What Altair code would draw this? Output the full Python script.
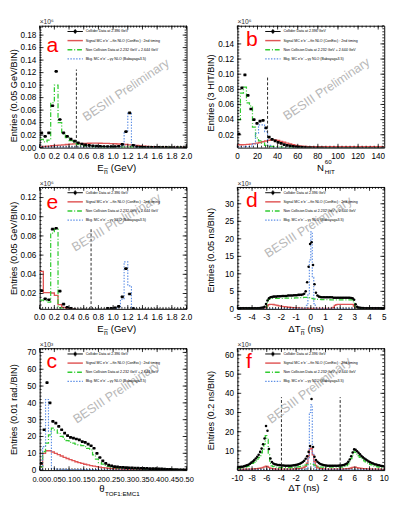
import math
import altair as alt
import pandas as pd

FONT = "Liberation Sans"
RED, GREEN, BLUE = "#e05555", "#33cc33", "#5d8fe6"
WM = "#b8b8b8"

# ---------------- panel a : E_nbar (GeV), 0.05 GeV bins, x10^6 ----------------
A_BIN0, A_BINW = 0.0, 0.05
A_DATA = [0.0235, 0.018, 0.0235, 0.067, 0.122, 0.045, 0.0235, 0.018, 0.0135, 0.0105,
          0.0075, 0.0058, 0.0045, 0.0036, 0.003, 0.0025, 0.0021, 0.0018, 0.0016, 0.0015,
          0.0016, 0.0022, 0.0052, 0.0255, 0.0555, 0.0038, 0.0012, 0.0008, 0.0006, 0.0005,
          0.0004, 0.0004, 0.0003, 0.0003, 0.0003, 0.0002, 0.0002, 0.0002, 0.0002, 0.0002]
A_SIGNAL = [0.0015, 0.002, 0.0025, 0.003, 0.0035, 0.004, 0.0045, 0.005, 0.0055, 0.006,
            0.0063, 0.0066, 0.0068, 0.007, 0.0071, 0.0071, 0.007, 0.0069, 0.0067, 0.0065,
            0.0062, 0.0058, 0.0054, 0.005, 0.0045, 0.004, 0.0034, 0.0028, 0.0023, 0.0018,
            0.0014, 0.0011, 0.0008, 0.0006, 0.0005, 0.0004, 0.0003, 0.0003, 0.0002, 0.0002]
A_NONCOLL = [0.013, 0.009, 0.012, 0.072, 0.100, 0.040, 0.022, 0.016, 0.011, 0.008,
             0.005, 0.003, 0.0022, 0.0016, 0.0012, 0.001, 0.0009, 0.0008, 0.0008, 0.0007,
             0.0007, 0.0007, 0.0008, 0.001, 0.001, 0.0007, 0.0006, 0.0005, 0.0005, 0.0004,
             0.0004, 0.0004, 0.0003, 0.0003, 0.0003, 0.0003, 0.0002, 0.0002, 0.0002, 0.0002]
A_BKG = [0.0008, 0.0008, 0.0008, 0.0008, 0.0008, 0.0008, 0.0008, 0.0008, 0.0008, 0.0008,
         0.0008, 0.0008, 0.0008, 0.0008, 0.0008, 0.0008, 0.0008, 0.0008, 0.0008, 0.0008,
         0.0009, 0.0012, 0.003, 0.025, 0.056, 0.004, 0.0008, 0.0005, 0.0004, 0.0003,
         0.0003, 0.0003, 0.0002, 0.0002, 0.0002, 0.0002, 0.0002, 0.0002, 0.0002, 0.0002]
A_CUTS = [(0.5, 0.125)]
A_XTICKS = [0.0, 0.2, 0.4, 0.6, 0.8, 1.0, 1.2, 1.4, 1.6, 1.8, 2.0]
A_XLABELS = ["0.0", "0.2", "0.4", "0.6", "0.8", "1.0", "1.2", "1.4", "1.6", "1.8", "2.0"]
A_YTICKS = [0.0, 0.02, 0.04, 0.06, 0.08, 0.10, 0.12, 0.14, 0.16, 0.18]
A_YLABELS = ["0.00", "0.02", "0.04", "0.06", "0.08", "0.10", "0.12", "0.14", "0.16", "0.18"]

# ---------------- panel b : N_HIT^60, 3 HIT bins, x10^6 ----------------
B_BIN0, B_BINW = 0.0, 3.0
B_DATA = [0.021, 0.082, 0.099, 0.072, 0.054, 0.040, 0.035, 0.038, 0.039, 0.029,
          0.017, 0.014, 0.012, 0.010, 0.0085, 0.007, 0.006, 0.0052, 0.0046, 0.004,
          0.0036, 0.0033, 0.003, 0.0028, 0.0026, 0.0025, 0.0024, 0.0023, 0.0022, 0.0021,
          0.002, 0.002, 0.002, 0.002, 0.002, 0.002, 0.002, 0.002, 0.002, 0.002,
          0.002, 0.002, 0.002, 0.002, 0.002, 0.002, 0.002, 0.002, 0.002, 0.002]
B_SIGNAL = [0.0068, 0.0068, 0.007, 0.0073, 0.0077, 0.0082, 0.0089, 0.0098, 0.0108, 0.0118,
            0.0128, 0.0135, 0.0132, 0.0124, 0.0113, 0.0101, 0.0089, 0.0078, 0.0068, 0.006,
            0.0053, 0.0048, 0.0045, 0.0043, 0.0042, 0.0042, 0.0042, 0.0042, 0.0042, 0.0042,
            0.0042, 0.0042, 0.0042, 0.0042, 0.0042, 0.0042, 0.0042, 0.0042, 0.0042, 0.0042,
            0.0042, 0.0042, 0.0042, 0.0042, 0.0042, 0.0042, 0.0042, 0.0042, 0.0042, 0.0042]
B_NONCOLL = [0.040, 0.075, 0.083, 0.062, 0.058, 0.030, 0.016, 0.012, 0.009, 0.006,
             0.005, 0.0045, 0.004, 0.0038, 0.0036, 0.0034, 0.0033, 0.0032, 0.0031, 0.003,
             0.0028, 0.0028, 0.0028, 0.0028, 0.0028, 0.0028, 0.0028, 0.0028, 0.0028, 0.0028,
             0.0028, 0.0028, 0.0028, 0.0028, 0.0028, 0.0028, 0.0028, 0.0028, 0.0028, 0.0028,
             0.0028, 0.0028, 0.0028, 0.0028, 0.0028, 0.0028, 0.0028, 0.0028, 0.0028, 0.0028]
B_BKG = [0.004, 0.004, 0.004, 0.0045, 0.005, 0.008, 0.022, 0.033, 0.033, 0.024,
         0.006, 0.0035, 0.003, 0.0028, 0.0028, 0.0028, 0.0028, 0.0028, 0.0028, 0.0028,
         0.0028, 0.0028, 0.0028, 0.0028, 0.0028, 0.0028, 0.0028, 0.0028, 0.0028, 0.0028,
         0.0028, 0.0028, 0.0028, 0.0028, 0.0028, 0.0028, 0.0028, 0.0028, 0.0028, 0.0028,
         0.0028, 0.0028, 0.0028, 0.0028, 0.0028, 0.0028, 0.0028, 0.0028, 0.0028, 0.0028]
B_CUTS = [(30, 0.098)]
B_XTICKS = [0, 20, 40, 60, 80, 100, 120, 140]
B_XLABELS = ["0", "20", "40", "60", "80", "100", "120", "140"]
B_YTICKS = [0.02, 0.04, 0.06, 0.08, 0.10, 0.12, 0.14]
B_YLABELS = ["0.02", "0.04", "0.06", "0.08", "0.10", "0.12", "0.14"]

# ---------------- panel e : E_nbar (GeV), 0.05 GeV bins, x10^6 ----------------
E_BIN0, E_BINW = 0.0, 0.05
E_DATA = [0.023, 0.0145, 0.0135, 0.087, 0.088, 0.0225, 0.009, 0.0055, 0.0045, 0.0035,
          0.003, 0.003, 0.003, 0.003, 0.003, 0.003, 0.003, 0.003, 0.0045, 0.0045,
          0.005, 0.0065, 0.0165, 0.046, 0.0195, 0.0042, 0.003, 0.003, 0.003, 0.003,
          0.003, 0.003, 0.003, 0.003, 0.003, 0.003, 0.003, 0.003, 0.003, 0.003]
E_SIGNAL = [0.043, 0.021, 0.021, 0.0205, 0.018, 0.0085, 0.0055, 0.0045, 0.0038, 0.0035,
            0.003, 0.003, 0.003, 0.003, 0.003, 0.003, 0.003, 0.003, 0.003, 0.003,
            0.003, 0.003, 0.003, 0.003, 0.003, 0.003, 0.003, 0.003, 0.003, 0.003,
            0.003, 0.003, 0.003, 0.003, 0.003, 0.003, 0.003, 0.003, 0.003, 0.003]
E_NONCOLL = [0.013, 0.0125, 0.011, 0.083, 0.087, 0.005, 0.0035, 0.003, 0.003, 0.003,
             0.003, 0.003, 0.003, 0.003, 0.003, 0.003, 0.003, 0.003, 0.003, 0.003,
             0.003, 0.003, 0.003, 0.003, 0.003, 0.003, 0.003, 0.003, 0.003, 0.003,
             0.003, 0.003, 0.003, 0.003, 0.003, 0.003, 0.003, 0.003, 0.003, 0.003]
E_BKG = [0.003, 0.003, 0.003, 0.003, 0.003, 0.003, 0.003, 0.003, 0.003, 0.003,
         0.003, 0.003, 0.003, 0.003, 0.003, 0.003, 0.003, 0.003, 0.003, 0.003,
         0.0045, 0.006, 0.014, 0.053, 0.028, 0.005, 0.003, 0.003, 0.003, 0.003,
         0.003, 0.003, 0.003, 0.003, 0.003, 0.003, 0.003, 0.003, 0.003, 0.003]
E_CUTS = [(0.7, 0.088)]
E_XTICKS, E_XLABELS = A_XTICKS, A_XLABELS
E_YTICKS = [0.02, 0.04, 0.06, 0.08, 0.10, 0.12]
E_YLABELS = ["0.02", "0.04", "0.06", "0.08", "0.10", "0.12"]

# ---------------- panel d : Delta T_nbar (ns), 0.1 ns points, x10^3 ----------------
D_BIN0, D_BINW = -5.0, 0.1
D_DATA = [0.2, 0.2, 0.2, 0.2, 0.2, 0.2, 0.2, 0.2, 0.2, 0.2,
          0.2, 0.2, 0.2, 0.2, 0.2, 0.25, 0.3, 0.35, 0.6, 1.4,
          2.4, 3.0, 3.3, 3.4, 3.5, 3.5, 3.5, 3.6, 3.6, 3.6,
          3.7, 3.7, 3.7, 3.7, 3.8, 3.8, 3.8, 3.8, 3.9, 3.9,
          3.9, 4.0, 4.0, 4.0, 4.1, 4.3, 5.0, 7.6, 12.0, 18.5,
          19.0, 12.5, 7.0, 4.6, 3.8, 3.5, 3.4, 3.3, 3.3, 3.3,
          3.3, 3.3, 3.3, 3.3, 3.3, 3.2, 3.2, 3.2, 3.2, 3.2,
          3.2, 3.2, 3.2, 3.2, 3.2, 3.2, 3.2, 3.1, 3.0, 2.6,
          1.3, 0.6, 0.35, 0.3, 0.25, 0.25, 0.2, 0.2, 0.2, 0.2,
          0.2, 0.2, 0.2, 0.2, 0.2, 0.2, 0.2, 0.2, 0.2, 0.2]
D_SIGNAL = [0.05, 0.05, 0.05, 0.05, 0.05, 0.05, 0.05, 0.05, 0.05, 0.05,
            0.05, 0.05, 0.05, 0.05, 0.05, 0.05, 0.05, 0.05, 0.05, 0.3,
            0.9, 1.2, 1.3, 1.3, 1.25, 1.15, 1.05, 0.95, 0.85, 0.8,
            0.72, 0.66, 0.6, 0.55, 0.5, 0.45, 0.4, 0.36, 0.32, 0.3,
            0.27, 0.24, 0.22, 0.2, 0.15, 0.15, 0.15, 0.15, 0.15, 0.15,
            0.15, 0.15, 0.15, 0.15, 0.15, 0.15, 0.15, 0.15, 0.15, 0.15,
            0.15, 0.15, 0.15, 0.15, 0.15, 0.4, 1.0, 1.2, 1.3, 1.3,
            1.3, 1.3, 1.3, 1.3, 1.3, 1.3, 1.3, 1.3, 1.3, 0.8,
            0.1, 0.05, 0.05, 0.05, 0.05, 0.05, 0.05, 0.05, 0.05, 0.05,
            0.05, 0.05, 0.05, 0.05, 0.05, 0.05, 0.05, 0.05, 0.05, 0.05]
D_NONCOLL = [0.05, 0.05, 0.05, 0.05, 0.05, 0.05, 0.05, 0.05, 0.05, 0.05,
             0.05, 0.05, 0.05, 0.05, 0.05, 0.05, 0.05, 0.05, 0.05, 0.05,
             1.8, 2.7, 2.9, 3.0, 3.0, 3.0, 3.0, 3.0, 3.0, 3.0,
             3.0, 3.05, 3.05, 3.05, 3.1, 3.1, 3.1, 3.1, 3.1, 3.15,
             3.15, 3.15, 3.2, 3.2, 3.2, 3.3, 3.3, 3.3, 3.3, 3.2,
             3.0, 2.9, 2.8, 2.7, 2.7, 2.7, 2.7, 2.65, 2.65, 2.65,
             2.65, 2.65, 2.65, 2.6, 2.6, 2.6, 2.6, 2.6, 2.6, 2.6,
             2.6, 2.6, 2.6, 2.6, 2.6, 2.6, 2.6, 2.6, 2.6, 1.8,
             0.05, 0.05, 0.05, 0.05, 0.05, 0.05, 0.05, 0.05, 0.05, 0.05,
             0.05, 0.05, 0.05, 0.05, 0.05, 0.05, 0.05, 0.05, 0.05, 0.05]
D_BKG = [0.05, 0.05, 0.05, 0.05, 0.05, 0.05, 0.05, 0.05, 0.05, 0.05,
         0.05, 0.05, 0.05, 0.05, 0.05, 0.05, 0.05, 0.05, 0.05, 0.05,
         0.05, 0.05, 0.05, 0.05, 0.05, 0.05, 0.05, 0.05, 0.05, 0.05,
         0.05, 0.05, 0.05, 0.05, 0.05, 0.05, 0.05, 0.05, 0.05, 0.05,
         0.05, 0.05, 0.05, 0.05, 0.05, 0.05, 0.05, 1.0, 4.0, 14.0,
         22.0, 9.0, 1.5, 0.05, 0.05, 0.05, 0.05, 0.05, 0.05, 0.05,
         0.05, 0.05, 0.05, 0.05, 0.05, 0.05, 0.05, 0.05, 0.05, 0.05,
         0.05, 0.05, 0.05, 0.05, 0.05, 0.05, 0.05, 0.05, 0.05, 0.05,
         0.05, 0.05, 0.05, 0.05, 0.05, 0.05, 0.05, 0.05, 0.05, 0.05,
         0.05, 0.05, 0.05, 0.05, 0.05, 0.05, 0.05, 0.05, 0.05, 0.05]
D_CUTS = []
D_XTICKS = [-5, -4, -3, -2, -1, 0, 1, 2, 3, 4, 5]
D_XLABELS = ["-5", "-4", "-3", "-2", "-1", "0", "1", "2", "3", "4", "5"]
D_YTICKS = [0, 5, 10, 15, 20, 25, 30]
D_YLABELS = ["0", "5", "10", "15", "20", "25", "30"]

# ---------------- panel c : theta_TOF1:EMC1, 0.01 rad bins, x10^3 ----------------
C_BIN0, C_BINW = 0.0, 0.01
C_DATA = [4, 24, 52, 40, 29, 28, 26, 24, 22, 20.5,
          19.5, 19, 18.5, 18, 17, 16.5, 15.5, 14.5, 13, 10,
          7.5, 5.5, 4, 3, 2.5, 2.1, 1.9, 1.7, 1.6, 1.5,
          1.4, 1.3, 1.25, 1.2, 1.1, 1.05, 1.0, 0.95, 0.9, 0.85,
          0.8, 0.7, 0.6, 0.5, 0.4, 0.3, 0.25, 0.2, 0.15, 0.1]
C_SIGNAL = [2, 10, 11.5, 11.5, 10.8, 10, 9.2, 8.4, 7.6, 6.9,
            6.2, 5.6, 5.0, 4.5, 4.0, 3.5, 3.1, 2.7, 2.4, 2.1,
            1.8, 1.5, 1.3, 1.1, 0.9, 0.8, 0.65, 0.55, 0.45, 0.4,
            0.35, 0.3, 0.25, 0.2, 0.2, 0.15, 0.15, 0.1, 0.1, 0.1,
            0.1, 0.1, 0.1, 0.1, 0.1, 0.1, 0.1, 0.1, 0.1, 0.1]
C_NONCOLL = [2, 11, 16, 21, 25, 24, 22, 20, 18.5, 17.5,
             16.5, 16, 15.5, 15, 14.5, 14, 13, 12, 9, 6.5,
             4.5, 3.5, 2.8, 2.2, 1.8, 1.5, 1.3, 1.2, 1.1, 1.0,
             0.95, 0.9, 0.85, 0.8, 0.75, 0.7, 0.65, 0.6, 0.55, 0.5,
             0.5, 0.45, 0.45, 0.4, 0.4, 0.35, 0.35, 0.3, 0.3, 0.3]
C_BKG = [0.5, 14, 42, 23, 1.0, 0.6, 0.5, 0.4, 0.4, 0.3,
         0.3, 0.3, 0.3, 0.3, 0.3, 0.3, 0.3, 0.3, 0.3, 0.3,
         0.2, 0.2, 0.2, 0.2, 0.2, 0.2, 0.2, 0.2, 0.2, 0.2,
         0.2, 0.2, 0.2, 0.2, 0.2, 0.2, 0.2, 0.2, 0.2, 0.2,
         0.2, 0.2, 0.2, 0.2, 0.2, 0.2, 0.2, 0.2, 0.2, 0.2]
C_CUTS = []
C_XTICKS = [0.0, 0.05, 0.10, 0.15, 0.20, 0.25, 0.30, 0.35, 0.40, 0.45, 0.50]
C_XLABELS = ["0.00", "0.05", "0.10", "0.15", "0.20", "0.25", "0.30", "0.35", "0.40", "0.45", "0.50"]
C_YTICKS = [0, 10, 20, 30, 40, 50, 60, 70]
C_YLABELS = ["0", "10", "20", "30", "40", "50", "60", "70"]

# ---------------- panel f : Delta T (ns), 0.2 ns bins, x10^3 ----------------
F_BIN0, F_BINW = -10.0, 0.2
F_DATA = [1.5, 1.6, 1.7, 1.8, 2.0, 2.2, 2.5, 2.8, 3.3, 3.9,
          4.5, 5.2, 6.0, 7.0, 8.0, 9.5, 11.2, 13.5, 16.5, 23.0,
          20.5, 11.0, 6.0, 4.2, 3.5, 3.1, 2.9, 2.7, 2.6, 2.5,
          2.4, 2.4, 2.3, 2.3, 2.3, 2.3, 2.3, 2.4, 2.5, 2.6,
          2.8, 3.0, 3.3, 3.7, 4.2, 4.9, 5.9, 7.2, 9.5, 12.5,
          37.0, 12.0, 7.0, 5.3, 4.4, 3.7, 3.2, 2.9, 2.7, 2.5,
          2.4, 2.3, 2.3, 2.3, 2.3, 2.3, 2.3, 2.3, 2.3, 2.4,
          2.4, 2.5, 2.7, 3.0, 3.5, 4.3, 5.5, 7.2, 9.2, 10.8,
          10.6, 9.8, 9.0, 8.2, 7.4, 6.7, 6.1, 5.5, 5.0, 4.5,
          4.1, 3.7, 3.4, 3.1, 2.9, 2.7, 2.5, 2.3, 2.1, 2.0]
F_SIGNAL = [0.4, 0.4, 0.4, 0.4, 0.4, 0.45, 0.45, 0.5, 0.5, 0.55,
            0.6, 0.65, 0.7, 0.8, 0.9, 1.0, 1.2, 1.4, 1.7, 2.0,
            1.9, 1.4, 1.0, 0.8, 0.7, 0.6, 0.55, 0.5, 0.5, 0.5,
            0.5, 0.5, 0.5, 0.5, 0.5, 0.5, 0.5, 0.55, 0.6, 0.65,
            0.7, 0.8, 0.9, 1.0, 1.2, 1.5, 2.0, 3.6, 7.5, 11.0,
            11.4, 8.0, 4.5, 2.5, 1.5, 1.0, 0.8, 0.7, 0.6, 0.55,
            0.5, 0.5, 0.5, 0.5, 0.5, 0.5, 0.5, 0.5, 0.5, 0.5,
            0.5, 0.55, 0.6, 0.65, 0.7, 0.8, 0.9, 1.1, 1.4, 1.5,
            1.5, 1.3, 1.1, 1.0, 0.9, 0.8, 0.75, 0.7, 0.65, 0.6,
            0.6, 0.55, 0.55, 0.5, 0.5, 0.5, 0.45, 0.45, 0.4, 0.4]
F_NONCOLL = [1.0, 1.1, 1.2, 1.3, 1.4, 1.6, 1.8, 2.1, 2.5, 3.0,
             3.5, 4.1, 4.8, 5.6, 6.5, 7.6, 9.0, 10.8, 13.5, 18.0,
             16.0, 8.0, 3.5, 2.2, 1.8, 1.6, 1.5, 1.4, 1.3, 1.3,
             1.3, 1.3, 1.3, 1.3, 1.3, 1.3, 1.3, 1.3, 1.4, 1.5,
             1.6, 1.7, 1.8, 2.0, 2.2, 2.4, 2.6, 2.8, 3.0, 3.2,
             3.2, 3.0, 2.6, 2.2, 1.9, 1.7, 1.6, 1.5, 1.5, 1.5,
             1.5, 1.5, 1.5, 1.5, 1.5, 1.5, 1.5, 1.5, 1.5, 1.5,
             1.5, 1.6, 1.6, 1.9, 2.4, 3.2, 4.4, 6.0, 7.8, 9.5,
             9.2, 8.3, 7.5, 6.7, 6.0, 5.4, 4.8, 4.3, 3.8, 3.4,
             3.0, 2.7, 2.4, 2.1, 1.9, 1.7, 1.5, 1.4, 1.3, 1.2]
F_BKG = [0.2, 0.2, 0.2, 0.2, 0.2, 0.2, 0.2, 0.2, 0.2, 0.2,
         0.2, 0.2, 0.2, 0.2, 0.2, 0.2, 0.2, 0.2, 0.2, 0.2,
         0.2, 0.2, 0.2, 0.2, 0.2, 0.2, 0.2, 0.2, 0.2, 0.2,
         0.2, 0.2, 0.2, 0.2, 0.2, 0.2, 0.2, 0.2, 0.2, 0.2,
         0.2, 0.2, 0.2, 0.2, 0.2, 0.2, 0.2, 1.0, 6.0, 30.0,
         34.0, 9.0, 1.5, 0.2, 0.2, 0.2, 0.2, 0.2, 0.2, 0.2,
         0.2, 0.2, 0.2, 0.2, 0.2, 0.2, 0.2, 0.2, 0.2, 0.2,
         0.2, 0.2, 0.2, 0.2, 0.2, 0.2, 0.2, 0.2, 0.2, 0.2,
         0.2, 0.2, 0.2, 0.2, 0.2, 0.2, 0.2, 0.2, 0.2, 0.2,
         0.2, 0.2, 0.2, 0.2, 0.2, 0.2, 0.2, 0.2, 0.2, 0.2]
F_CUTS = [(-4, 38), (4, 38)]
F_XTICKS = [-10, -8, -6, -4, -2, 0, 2, 4, 6, 8, 10]
F_XLABELS = ["-10", "-8", "-6", "-4", "-2", "0", "2", "4", "6", "8", "10"]
F_YTICKS = [10, 20, 30, 40, 50, 60]
F_YLABELS = ["10", "20", "30", "40", "50", "60"]

LEGEND_LABELS = ["Collider Data at 2.396 GeV",
                 "Signal MC e\u207ae\u207b\u2192n\u0305n NLO (ConExc) : 2nd timing",
                 "Non Collision Data at 2.232 GeV + 2.644 GeV",
                 "Bkg. MC e\u207ae\u207b\u2192\u03b3\u03b3 NLO (Babayaga3.5)"]

W, H = 153, 127
ONE = pd.DataFrame({"k": [0]})


def hist_df(b0, bw, vals):
    xs = [b0 + i * bw for i in range(len(vals) + 1)]
    return pd.DataFrame({"x": xs, "y": list(vals) + [vals[-1]]})


def pts_df(b0, bw, vals):
    return pd.DataFrame({"c": [b0 + (i + 0.5) * bw for i in range(len(vals))],
                         "lo": [b0 + i * bw for i in range(len(vals))],
                         "hi": [b0 + (i + 1) * bw for i in range(len(vals))],
                         "v": vals})


def minor(dom, step):
    lo, hi = dom
    k = math.ceil(lo / step - 1e-9)
    out = []
    while k * step <= hi + 1e-9:
        out.append(round(k * step, 6))
        k += 1
    return out


def txt(x, y, s, size, color="black", align="left", baseline="alphabetic", angle=None):
    kw = dict(text=s, fontSize=size, color=color, align=align, baseline=baseline, font=FONT)
    if angle is not None:
        kw["angle"] = angle
    return alt.Chart(ONE).mark_text(**kw).encode(x=alt.value(x), y=alt.value(y))


def hrule(x1, x2, y, color, width, dash=None):
    kw = dict(color=color, strokeWidth=width)
    if dash:
        kw["strokeDash"] = dash
    return alt.Chart(ONE).mark_rule(**kw).encode(x=alt.value(x1), x2=alt.value(x2), y=alt.value(y))


def vrule(x, y1, y2, color, width):
    return alt.Chart(ONE).mark_rule(color=color, strokeWidth=width).encode(
        x=alt.value(x), y=alt.value(y1), y2=alt.value(y2))


def panel(p):
    xs = alt.Scale(domain=p["xdom"], nice=False, zero=False)
    ys = alt.Scale(domain=p["ydom"], nice=False, zero=False)
    L = []
    # histograms
    for vals, col, dash, sw in [(p["sig"], RED, None, 1.4), (p["non"], GREEN, [5, 2, 1, 2], 1.3),
                                (p["bkg"], BLUE, [1.5, 1.5], 1.2)]:
        kw = dict(interpolate="step-after", clip=True, color=col, strokeWidth=sw)
        if dash:
            kw["strokeDash"] = dash
        L.append(alt.Chart(hist_df(p["b0"], p["bw"], vals)).mark_line(**kw).encode(
            x=alt.X("x:Q", scale=xs, axis=None), y=alt.Y("y:Q", scale=ys, axis=None)))
    # collider data
    dpts = pts_df(p["b0"], p["bw"], p["data"])
    if p["dense"]:
        L.append(alt.Chart(dpts).mark_circle(color="black", size=7, opacity=1, clip=True).encode(
            x=alt.X("c:Q", scale=xs, axis=None), y=alt.Y("v:Q", scale=ys, axis=None)))
    else:
        L.append(alt.Chart(dpts).mark_rule(color="black", strokeWidth=1, clip=True).encode(
            x=alt.X("lo:Q", scale=xs, axis=None), x2="hi:Q", y=alt.Y("v:Q", scale=ys, axis=None)))
        L.append(alt.Chart(dpts).mark_square(color="black", size=8, opacity=1, clip=True).encode(
            x=alt.X("c:Q", scale=xs, axis=None), y=alt.Y("v:Q", scale=ys, axis=None)))
    # cut lines
    if p["cuts"]:
        cdf = pd.DataFrame({"x": [c[0] for c in p["cuts"]], "top": [c[1] for c in p["cuts"]],
                            "bot": [p["ydom"][0]] * len(p["cuts"])})
        L.append(alt.Chart(cdf).mark_rule(color="#222222", strokeWidth=1, strokeDash=[3, 2]).encode(
            x=alt.X("x:Q", scale=xs, axis=None), y=alt.Y("bot:Q", scale=ys, axis=None), y2="top:Q"))
    # inward ticks on all four sides
    for vals, ln in [(p["yticks"], 4), (minor(p["ydom"], p["ymin"]), 2)]:
        tdf = pd.DataFrame({"v": [v for v in vals if p["ydom"][0] <= v <= p["ydom"][1]]})
        for xa, xb in [(0, ln), (W, W - ln)]:
            L.append(alt.Chart(tdf).mark_rule(color="black", strokeWidth=0.8).encode(
                y=alt.Y("v:Q", scale=ys, axis=None), x=alt.value(xa), x2=alt.value(xb)))
    for vals, ln in [(p["xticks"], 4), (minor(p["xdom"], p["xmin"]), 2)]:
        tdf = pd.DataFrame({"v": [v for v in vals if p["xdom"][0] <= v <= p["xdom"][1]]})
        for ya, yb in [(H, H - ln), (0, ln)]:
            L.append(alt.Chart(tdf).mark_rule(color="black", strokeWidth=0.8).encode(
                x=alt.X("v:Q", scale=xs, axis=None), y=alt.value(ya), y2=alt.value(yb)))
    # tick labels
    ydf = pd.DataFrame({"v": p["yticks"], "t": p["ylabels"]})
    L.append(alt.Chart(ydf).mark_text(align="right", baseline="middle", fontSize=8.5, font=FONT,
                                      color="black").encode(
        y=alt.Y("v:Q", scale=ys, axis=None), x=alt.value(-3.5), text="t:N"))
    xdf = pd.DataFrame({"v": p["xticks"], "t": p["xlabels"]})
    L.append(alt.Chart(xdf).mark_text(align="center", baseline="top", fontSize=p["xlab_size"],
                                      font=FONT, color="black").encode(
        x=alt.X("v:Q", scale=xs, axis=None), y=alt.value(H + p["xlab_dy"]), text="t:N"))
    # watermark
    wx, wy, wa = p["wm"]
    L.append(txt(wx, wy, "BESIII Preliminary", 13, WM, "center", "middle", wa))
    # legend
    lx, ly = 29, 6
    for k, lab in enumerate(LEGEND_LABELS):
        y = ly + k * 9.5
        if k == 0:
            L.append(hrule(lx, lx + 16, y, "black", 1))
            L.append(vrule(lx + 8, y - 2.5, y + 2.5, "black", 1))
            L.append(alt.Chart(ONE).mark_square(color="black", size=8, opacity=1).encode(
                x=alt.value(lx + 8), y=alt.value(y)))
        elif k == 1:
            L.append(hrule(lx, lx + 16, y, RED, 1.5))
        elif k == 2:
            L.append(hrule(lx, lx + 16, y, GREEN, 1.4, [5, 2, 1, 2]))
        else:
            L.append(hrule(lx, lx + 16, y, BLUE, 1.2, [1.5, 1.5]))
        L.append(txt(lx + 19, y, lab, 3.7, "black", "left", "middle"))
    # letter, exponent, titles
    L.append(txt(p["letter_xy"][0], p["letter_xy"][1], p["letter"], 22, "#ff0000"))
    L.append(txt(0, -1.5, p["exp"], 7, "#333333"))
    L.append(txt(-27, p["ytitle_y"], p["ytitle"], 9.5, "black", "center", "middle", 270))
    for s, x, dy, size in p["xtitle"]:
        L.append(txt(x, H + 24 + dy, s, size))
    return alt.layer(*L).properties(width=W, height=H)


PANELS = [
    dict(letter="a", b0=A_BIN0, bw=A_BINW, data=A_DATA, sig=A_SIGNAL, non=A_NONCOLL, bkg=A_BKG,
         cuts=A_CUTS, xdom=[0, 2], ydom=[0, 0.195], xticks=A_XTICKS, yticks=A_YTICKS,
         xlabels=A_XLABELS, ylabels=A_YLABELS, xlab_size=8.5, xlab_dy=4.5,
         xmin=0.04, ymin=0.004, dense=False, letter_xy=(7, 27),
         exp="\u00d710\u2076", ytitle="Entries (0.05 GeV/BIN)", ytitle_y=73,
         wm=(90, 67, 326),
         xtitle=[("E", 60, 0, 10), ("n\u0305", 67, 3, 7), ("(GeV)", 74, 0, 10)]),
    dict(letter="b", b0=B_BIN0, bw=B_BINW, data=B_DATA, sig=B_SIGNAL, non=B_NONCOLL, bkg=B_BKG,
         cuts=B_CUTS, xdom=[0, 146], ydom=[0.003, 0.164], xticks=B_XTICKS, yticks=B_YTICKS,
         xlabels=B_XLABELS, ylabels=B_YLABELS, xlab_size=8.5, xlab_dy=4.5,
         xmin=4, ymin=0.004, dense=False, letter_xy=(9, 21),
         exp="\u00d710\u2076", ytitle="Entries (3 HIT/BIN)", ytitle_y=70,
         wm=(93, 66, 326),
         xtitle=[("N", 83, 0, 10), ("60", 91, -7, 6.5), ("HIT", 91, 4, 6.5)]),
    dict(letter="e", b0=E_BIN0, bw=E_BINW, data=E_DATA, sig=E_SIGNAL, non=E_NONCOLL, bkg=E_BKG,
         cuts=E_CUTS, xdom=[0, 2], ydom=[0.004, 0.131], xticks=E_XTICKS, yticks=E_YTICKS,
         xlabels=E_XLABELS, ylabels=E_YLABELS, xlab_size=8.5, xlab_dy=4.5,
         xmin=0.04, ymin=0.004, dense=False, letter_xy=(7, 23),
         exp="\u00d710\u2076", ytitle="Entries (0.05 GeV/BIN)", ytitle_y=64,
         wm=(80, 37, 329),
         xtitle=[("E", 60, 0, 10), ("n\u0305", 67, 3, 7), ("(GeV)", 74, 0, 10)]),
    dict(letter="d", b0=D_BIN0, bw=D_BINW, data=D_DATA, sig=D_SIGNAL, non=D_NONCOLL, bkg=D_BKG,
         cuts=D_CUTS, xdom=[-5, 5], ydom=[0, 34.8], xticks=D_XTICKS, yticks=D_YTICKS,
         xlabels=D_XLABELS, ylabels=D_YLABELS, xlab_size=8.5, xlab_dy=4.5,
         xmin=0.2, ymin=1, dense=True, letter_xy=(9, 21),
         exp="\u00d710\u00b3", ytitle="Entries (0.05 ns/BIN)", ytitle_y=66,
         wm=(74, 42, 327),
         xtitle=[("\u0394T", 53, 0, 10), ("n\u0305", 66, 3, 7), ("(ns)", 73, 0, 10)]),
    dict(letter="c", b0=C_BIN0, bw=C_BINW, data=C_DATA, sig=C_SIGNAL, non=C_NONCOLL, bkg=C_BKG,
         cuts=C_CUTS, xdom=[0, 0.5], ydom=[0, 72.5], xticks=C_XTICKS, yticks=C_YTICKS,
         xlabels=C_XLABELS, ylabels=C_YLABELS, xlab_size=7.8, xlab_dy=6,
         xmin=0.01, ymin=2, dense=False, letter_xy=(7, 21),
         exp="\u00d710\u00b3", ytitle="Entries (0.01 rad./BIN)", ytitle_y=64,
         wm=(80, 46, 326),
         xtitle=[("\u03b8", 62, -1, 10), ("TOF1:EMC1", 68, 3, 6.5)]),
    dict(letter="f", b0=F_BIN0, bw=F_BINW, data=F_DATA, sig=F_SIGNAL, non=F_NONCOLL, bkg=F_BKG,
         cuts=F_CUTS, xdom=[-10, 10], ydom=[0, 63.5], xticks=F_XTICKS, yticks=F_YTICKS,
         xlabels=F_XLABELS, ylabels=F_YLABELS, xlab_size=8.5, xlab_dy=4.5,
         xmin=0.4, ymin=2, dense=True, letter_xy=(9, 21),
         exp="\u00d710\u00b3", ytitle="Entries (0.2 ns/BIN)", ytitle_y=65,
         wm=(75, 44, 323),
         xtitle=[("\u0394T (ns)", 53, -2, 10)]),
]

charts = [panel(p) for p in PANELS]

chart = alt.ConcatChart(
    concat=charts, columns=2, spacing={"row": 41, "column": 53}, bounds="flush"
).properties(padding=0, background="white").configure_view(
    stroke="black", strokeWidth=1
)

chart.save("out.html", embed_options={"renderer": "svg", "actions": False})
